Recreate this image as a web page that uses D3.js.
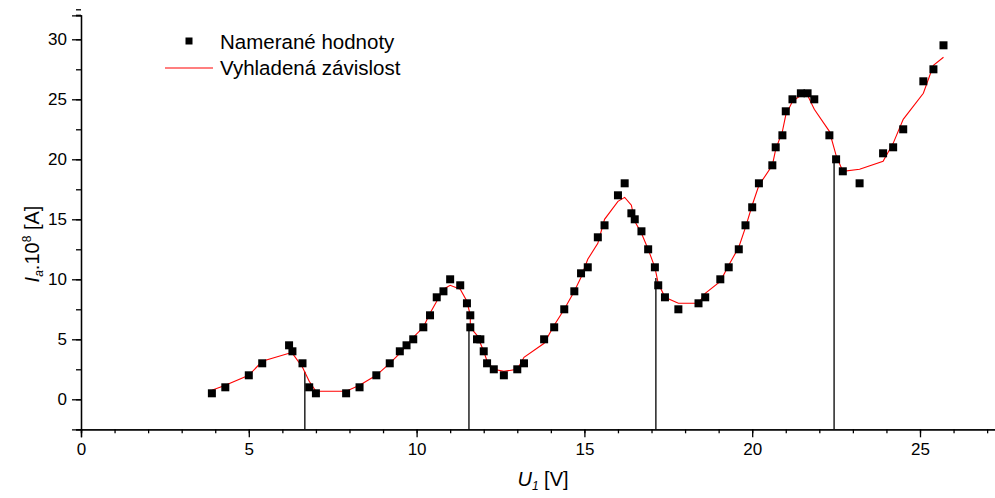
<!DOCTYPE html>
<html>
<head>
<meta charset="utf-8">
<script src="https://cdn.jsdelivr.net/npm/d3@7"></script>
<style>
  body { margin: 0; background: #fff; }
  svg text { font-family: "Liberation Sans", Arial, sans-serif; fill: #000; }
</style>
</head>
<body>
<div id="chart"></div>
<script>
// Franck-Hertz: anode current vs accelerating voltage
const width = 995;
const height = 498;

// measured points (U1 [V], Ia.10^8 [A])
const voltage = [3.9, 4.3, 5.0, 5.4, 6.2, 6.3, 6.6, 6.8, 7.0, 7.9, 8.3, 8.8, 9.2, 9.5, 9.7, 9.9,
  10.2, 10.4, 10.6, 10.8, 11.0, 11.3, 11.5, 11.6, 11.6, 11.8, 11.9, 12.0, 12.1, 12.3, 12.6, 13.0,
  13.2, 13.8, 14.1, 14.4, 14.7, 14.9, 15.1, 15.4, 15.6, 16.0, 16.2, 16.4, 16.5, 16.7, 16.9, 17.1,
  17.2, 17.4, 17.8, 18.4, 18.6, 19.05, 19.3, 19.6, 19.8, 20.0, 20.2, 20.6, 20.7, 20.9, 21.0, 21.2,
  21.45, 21.65, 21.85, 22.3, 22.5, 22.7, 23.2, 23.9, 24.2, 24.5, 25.1, 25.4, 25.7];
const current = [0.5, 1, 2, 3, 4.5, 4, 3, 1, 0.5, 0.5, 1, 2, 3, 4, 4.5, 5,
  6, 7, 8.5, 9, 10, 9.5, 8, 7, 6, 5, 5, 4, 3, 2.5, 2, 2.5,
  3, 5, 6, 7.5, 9, 10.5, 11, 13.5, 14.5, 17, 18, 15.5, 15, 14, 12.5, 11,
  9.5, 8.5, 7.5, 8, 8.5, 10, 11, 12.5, 14.5, 16, 18, 19.5, 21, 22, 24, 25,
  25.5, 25.5, 25, 22, 20, 19, 18, 20.5, 21, 22.5, 26.5, 27.5, 29.5];
// smoothed curve read at the same voltages
const smoothed = [0.75, 1.17, 2.0, 3.17, 3.83, 3.83, 2.67, 1.5, 0.67, 0.67, 1.17, 2.0, 3.0, 3.83, 4.5, 5.17,
  6.0, 7.17, 8.17, 9.17, 9.5, 9.17, 8.17, 7.0, 6.0, 5.33, 4.67, 4.0, 3.17, 2.5, 2.33, 2.5,
  3.5, 4.67, 6.17, 7.5, 9.0, 10.17, 11.67, 13.0, 15.0, 16.5, 16.83, 16.17, 14.83, 13.83, 12.5, 11.0,
  9.67, 8.5, 8.0, 8.0, 8.83, 9.83, 11.17, 12.67, 14.33, 16.17, 17.83, 19.5, 20.83, 22.33, 23.67, 24.83,
  25.33, 25.33, 24.17, 22.33, 20.33, 19.0, 19.17, 19.83, 21.33, 23.33, 25.5, 27.83, 28.5];
// minima markers
const dropX = [6.67, 11.56, 17.13, 22.44];
const dropY = [2.3, 5.9, 10.1, 19.8];

const xMajor = [0, 5, 10, 15, 20, 25];
const yMajor = [0, 5, 10, 15, 20, 25, 30];

const svg = d3.select('#chart').append('svg')
  .attr('width', width)
  .attr('height', height);

const x = d3.scaleLinear().domain([0, 27.3]).range([81, 81 + 27.3 * 33.56]);
const y = d3.scaleLinear().domain([-2.5, 32]).range([429.3, 15.3]);

// drop lines
svg.append('g').selectAll('line')
  .data(dropX)
  .enter()
  .append('line')
  .attr('x1', d => x(d)).attr('x2', d => x(d))
  .attr('y1', y(-2.5))
  .attr('y2', (d, i) => y(dropY[i]))
  .attr('stroke', '#000')
  .attr('stroke-width', 1.3);

// x axis
const xAxis = svg.append('g').attr('transform', `translate(0,${y(-2.5)})`);
xAxis.call(d3.axisBottom(x).tickValues(d3.range(0, 28, 1)).tickSize(4).tickFormat(''));
xAxis.append('g').call(d3.axisBottom(x).tickValues(xMajor).tickSize(8).tickPadding(6).tickFormat(d3.format('d')));
xAxis.selectAll('.domain').attr('stroke-width', 1.3);
xAxis.selectAll('line').attr('stroke-width', 1.3);
xAxis.selectAll('text').style('font-size', '17px');

// y axis
const yAxis = svg.append('g').attr('transform', `translate(${x(0)},0)`);
yAxis.call(d3.axisLeft(y).tickValues(d3.range(-2.5, 33, 2.5)).tickSize(5).tickFormat(''));
yAxis.append('g').call(d3.axisLeft(y).tickValues(yMajor).tickSize(9).tickPadding(5).tickFormat(d3.format('d')));
yAxis.selectAll('.domain').attr('stroke-width', 1.3);
yAxis.selectAll('line').attr('stroke-width', 1.3);
yAxis.selectAll('text').style('font-size', '17px');
yAxis.append('line')
  .attr('x1', -5).attr('x2', 0)
  .attr('y1', y(32)).attr('y2', y(32))
  .attr('stroke', '#000').attr('stroke-width', 1.3);

// smoothed curve
const pts = voltage.map((v, i) => [v, smoothed[i]]);
svg.append('path')
  .datum(pts)
  .attr('fill', 'none')
  .attr('stroke', '#ff0000')
  .attr('stroke-width', 1.1)
  .attr('d', d3.line().x(d => x(d[0])).y(d => y(d[1])));

// measured points
const sq = 8;
svg.append('g').selectAll('rect')
  .data(voltage.map((v, i) => [v, current[i]]))
  .enter()
  .append('rect')
  .attr('x', d => x(d[0]) - sq / 2)
  .attr('y', d => y(d[1]) - sq / 2)
  .attr('width', sq)
  .attr('height', sq)
  .attr('fill', '#000');

// axis titles
const xt = svg.append('text')
  .attr('x', 543).attr('y', 486)
  .attr('text-anchor', 'middle')
  .style('font-size', '20px');
xt.append('tspan').style('font-style', 'italic').text('U');
xt.append('tspan').style('font-style', 'italic').style('font-size', '12px').attr('dy', 4).text('1');
xt.append('tspan').attr('dy', -4).text(' [V]');

const yt = svg.append('text')
  .attr('transform', 'translate(39,244) rotate(-90)')
  .attr('text-anchor', 'middle')
  .style('font-size', '20px');
yt.append('tspan').style('font-style', 'italic').text('I');
yt.append('tspan').style('font-style', 'italic').style('font-size', '12px').attr('dy', 4).text('a');
yt.append('tspan').attr('dy', -4).text('.10');
yt.append('tspan').style('font-size', '12px').attr('dy', -8).text('8');
yt.append('tspan').attr('dy', 8).text(' [A]');

// legend
const legend = svg.append('g');
legend.append('rect')
  .attr('x', 185.5).attr('y', 37.5)
  .attr('width', 7).attr('height', 7)
  .attr('fill', '#000');
legend.append('text')
  .attr('x', 220).attr('y', 48.5)
  .style('font-size', '20.5px')
  .text('Namerané hodnoty');
legend.append('line')
  .attr('x1', 165).attr('x2', 213)
  .attr('y1', 68).attr('y2', 68)
  .style('stroke', '#ff0000')
  .style('stroke-width', 1.2);
legend.append('text')
  .attr('x', 220).attr('y', 75)
  .style('font-size', '20.5px')
  .text('Vyhladená závislost');
</script>
</body>
</html>
